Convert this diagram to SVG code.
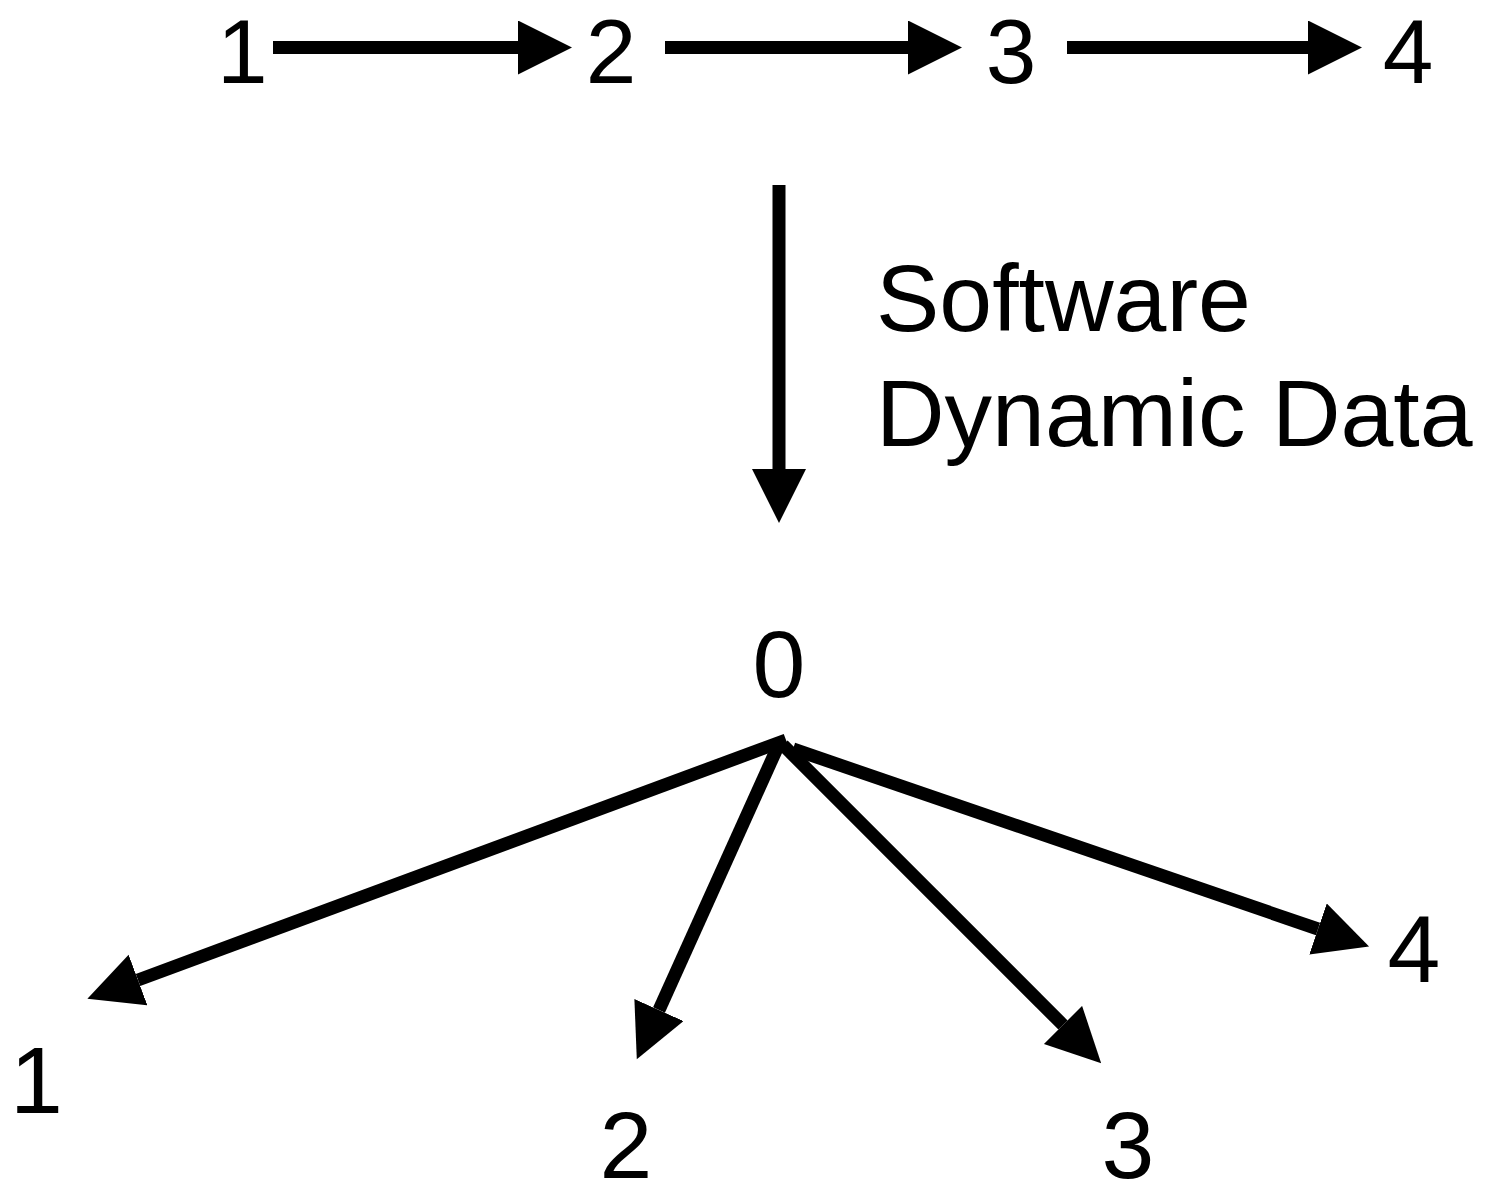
<svg xmlns="http://www.w3.org/2000/svg" width="1490" height="1182" viewBox="0 0 1490 1182">
  <style>
    .lbl { font-family: "Liberation Sans", Arial, sans-serif; font-size: 95px; fill: #000; }
    .top { font-size: 91px; }
    .mid { text-anchor: middle; }
    .edge { stroke: #000; stroke-width: 13; fill: none; marker-end: url(#head); }
  </style>
  <defs>
    <marker id="head" markerUnits="userSpaceOnUse" markerWidth="56" markerHeight="56" refX="0" refY="27" orient="auto">
      <path d="M0,0 L54,27 L0,54 Z" fill="#000"/>
    </marker>
  </defs>
  <rect width="1490" height="1182" fill="#fff"/>

  <g id="connectors">
    <line class="edge" x1="273" y1="47.5" x2="518" y2="47.5"/>
    <line class="edge" x1="665" y1="47.5" x2="908" y2="47.5"/>
    <line class="edge" x1="1067" y1="47.5" x2="1308" y2="47.5"/>
    <line class="edge" x1="779" y1="185" x2="779" y2="469"/>
    <line class="edge" x1="786" y1="740" x2="138" y2="980"/>
    <line class="edge" x1="779" y1="744" x2="659" y2="1010"/>
    <line class="edge" x1="783" y1="745" x2="1063" y2="1025"/>
    <line class="edge" x1="793" y1="749" x2="1318" y2="929"/>
  </g>

  <g id="top-1"><text class="lbl top" x="217" y="83">1</text></g>
  <g id="top-2"><text class="lbl top mid" x="611" y="83">2</text></g>
  <g id="top-3"><text class="lbl top mid" x="1011" y="83">3</text></g>
  <g id="top-4"><text class="lbl top mid" x="1408" y="83">4</text></g>

  <g id="label">
    <text class="lbl" x="876" y="331">Software</text>
    <text class="lbl" x="876" y="446">Dynamic Data</text>
  </g>

  <g id="bottom-0"><text class="lbl mid" x="779" y="697">0</text></g>
  <g id="bottom-1"><text class="lbl" x="10" y="1113">1</text></g>
  <g id="bottom-2"><text class="lbl mid" x="626" y="1178">2</text></g>
  <g id="bottom-3"><text class="lbl mid" x="1128" y="1178">3</text></g>
  <g id="bottom-4"><text class="lbl mid" x="1414" y="982">4</text></g>
</svg>
